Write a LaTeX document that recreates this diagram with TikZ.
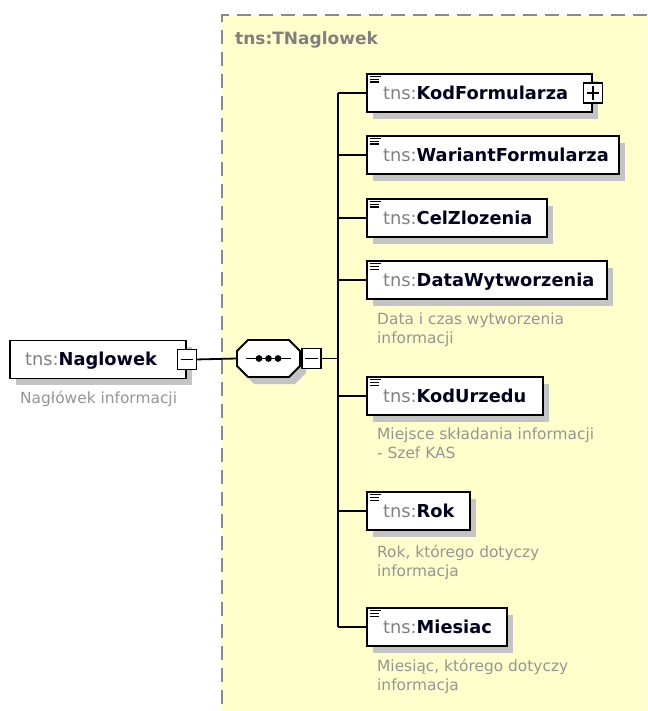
\documentclass[tikz,border=0pt]{standalone}
\usepackage{fontspec}
\setmainfont{DejaVu Sans}
\usetikzlibrary{shadows}
\definecolor{tnsgray}{HTML}{808080}
\definecolor{descgray}{HTML}{959595}
\definecolor{yellowbg}{HTML}{FFFFCC}
\definecolor{shadowc}{HTML}{C4C4C4}
\definecolor{dashgray}{HTML}{8A8A8A}
\definecolor{namecol}{HTML}{000020}
\newcommand{\tnsp}{\textcolor{tnsgray}{tns:}}
\tikzset{
  elbox/.style={draw=black, line width=1.9pt, fill=white, minimum height=38pt, inner sep=0pt, anchor=north west,
    general shadow={fill=shadowc, shadow xshift=6pt, shadow yshift=-7pt}},
  eltext/.style={anchor=base west, inner sep=0pt, font=\fontsize{17.8}{20}\selectfont, text=namecol},
  desc/.style={anchor=north west, inner sep=0pt, align=left, font=\fontsize{15.4}{19}\selectfont, text=descgray},
  expbox/.style={draw=black, fill=white, line width=1.6pt, minimum width=19pt, minimum height=20pt, inner sep=0pt},
  conn/.style={draw=black, line width=1.8pt},
  icon/.style={line width=1.2pt},
}
\newcommand{\elicon}[1]{%
  \draw[icon] ([shift={(3.5pt,-3.5pt)}]#1.north west) -- ++(11pt,0pt);
  \draw[icon] ([shift={(3.5pt,-6.3pt)}]#1.north west) -- ++(9pt,0pt);
  \draw[icon] ([shift={(3.5pt,-9.1pt)}]#1.north west) -- ++(9pt,0pt);
}
\begin{document}
\begin{tikzpicture}[x=1pt,y=-1pt]
\useasboundingbox (0,0) rectangle (647,711);
% complex type area
\fill[yellowbg] (222,15) rectangle (647,711);
\draw[dashgray, line width=1.8pt, dash pattern=on 14pt off 8pt] (647,15) -- (222,15) -- (222,711);
\node[anchor=base west, inner sep=0pt, font=\fontsize{17}{20}\selectfont\bfseries, text=tnsgray] (title) at (235,45) {tns:TNaglowek};

% root element
\node[elbox, minimum width=176pt] (nag) at (9,339.5) {};
\node[eltext] (nagt) at ([shift={(16pt,-6.5pt)}]nag.west) {\tnsp\textbf{Naglowek}};
\node[expbox] (nagm) at (nag.east) {};
\draw[line width=1.5pt] ([xshift=4pt]nagm.west) -- ([xshift=-4pt]nagm.east);
\node[desc] (nagd) at (20,391) {Nagłówek informacji};

% sequence compositor
\begin{scope}[shift={(6,7)}]
\fill[shadowc] (248,340) -- (289,340) -- (300,351) -- (300,366) -- (289,377) -- (248,377) -- (237,366) -- (237,351) -- cycle;
\end{scope}
\filldraw[fill=white, draw=black, line width=1.9pt] (248,340) -- (289,340) -- (300,351) -- (300,366) -- (289,377) -- (248,377) -- (237,366) -- (237,351) -- cycle;
\node[minimum width=63pt, minimum height=37pt, inner sep=0pt] (seq) at (268.5,358.5) {};
\draw[line width=1.8pt] (246,358.5) -- (291,358.5);
\foreach \dx in {259,268.5,278} \fill (\dx,358.5) circle (3.4pt);
\node[expbox, anchor=west] (seqm) at ([xshift=1pt]seq.east) {};
\draw[line width=1.5pt] ([xshift=4pt]seqm.west) -- ([xshift=-4pt]seqm.east);
\draw[conn] (nagm.east) -- (seq.west);

% children
\node[elbox, minimum width=225pt] (kod) at (366,73) {};
\node[elbox, minimum width=252pt] (war) at (366,135) {};
\node[elbox, minimum width=180pt] (cel) at (366,198) {};
\node[elbox, minimum width=240pt] (data) at (366,260) {};
\node[elbox, minimum width=176pt] (urz) at (366,376) {};
\node[elbox, minimum width=103pt] (rok) at (366,491) {};
\node[elbox, minimum width=140pt] (mies) at (366,607) {};

\node[eltext] at ([shift={(17pt,-6.5pt)}]kod.west) {\tnsp\textbf{KodFormularza}};
\node[eltext] at ([shift={(17pt,-6.5pt)}]war.west) {\tnsp\textbf{WariantFormularza}};
\node[eltext] at ([shift={(17pt,-6.5pt)}]cel.west) {\tnsp\textbf{CelZlozenia}};
\node[eltext] at ([shift={(17pt,-6.5pt)}]data.west) {\tnsp\textbf{DataWytworzenia}};
\node[eltext] at ([shift={(17pt,-6.5pt)}]urz.west) {\tnsp\textbf{KodUrzedu}};
\node[eltext] at ([shift={(17pt,-6.5pt)}]rok.west) {\tnsp\textbf{Rok}};
\node[eltext] at ([shift={(17pt,-6.5pt)}]mies.west) {\tnsp\textbf{Miesiac}};

\foreach \n in {kod,war,cel,data,urz,rok,mies} {\elicon{\n}}

\node[expbox] (kodp) at (kod.east) {};
\draw[line width=1.5pt] ([xshift=4pt]kodp.west) -- ([xshift=-4pt]kodp.east);
\draw[line width=1.5pt] ([yshift=4pt]kodp.south) -- ([yshift=-4pt]kodp.north);

\node[desc] (datad) at (377,313) {Data i czas wytworzenia\\informacji};
\node[desc] (urzd) at (377,428) {Miejsce składania informacji\\- Szef KAS};
\node[desc] (rokd) at (377,545) {Rok, którego dotyczy\\informacja};
\node[desc] (miesd) at (377,659) {Miesiąc, którego dotyczy\\informacja};

% connectors
\coordinate (bus) at (338,358.5);
\draw[conn] (seqm.east) -- (bus);
\draw[conn] (kod.west -| bus) -- (mies.west -| bus);
\foreach \n in {kod,war,cel,data,urz,rok,mies} {\draw[conn] (\n.west -| bus) -- (\n.west);}
\end{tikzpicture}
\end{document}
